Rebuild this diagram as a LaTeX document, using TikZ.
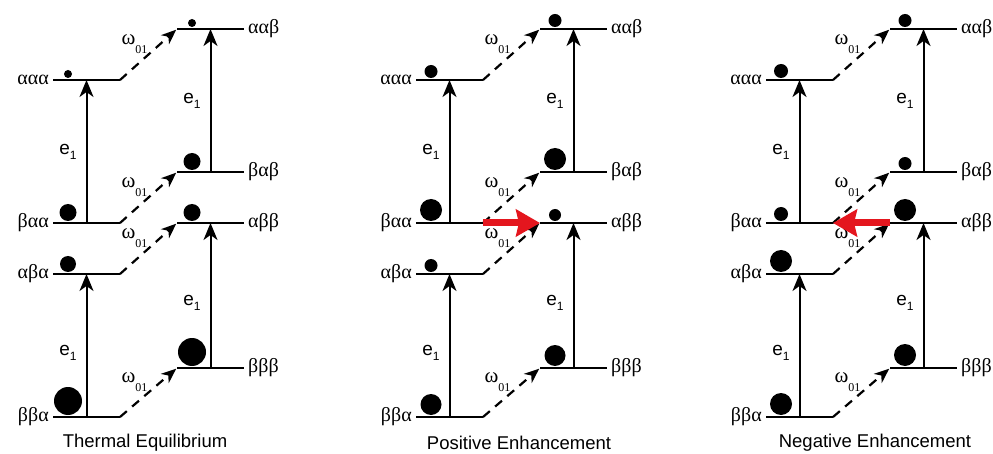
\documentclass[tikz,border=0pt]{standalone}
\usepackage{fontspec}
\setmainfont{Liberation Sans}
\newfontfamily\grk{Liberation Serif}
\usetikzlibrary{arrows.meta, positioning, calc}
\definecolor{enhred}{RGB}{228,22,30}
\newcommand{\esub}[1]{\raisebox{-5pt}{\fontsize{12}{12}\selectfont #1}}
\newcommand{\wsub}[1]{\raisebox{-9pt}{\fontsize{12}{12}\selectfont #1}}

\begin{document}
\begin{tikzpicture}[x=1pt, y=-1pt,
    lev/.style={minimum width=67pt, minimum height=0pt, inner sep=0pt, outer sep=0pt},
    lvl/.style={line width=2.6pt},
    spin/.style={font=\grk\fontsize{20}{20}\selectfont, inner sep=0pt, text height=9pt, text depth=0pt},
    xfer/.style={line width=2pt, -{Stealth[length=17pt, width=14pt, inset=5pt]}},
    cross/.style={line width=2.2pt, dash pattern=on 9pt off 7pt, shorten >=1pt,
        -{Stealth[length=15pt, width=12pt, inset=4.5pt]}},
    enh/.style={line width=7pt, draw=enhred, -{Stealth[length=24pt, width=27pt, inset=3pt]}},
    elbl/.style={font=\fontsize{19}{19}\selectfont, inner sep=0pt},
    wlbl/.style={font=\grk\fontsize{21}{21}\selectfont, inner sep=0pt},
    capt/.style={font=\fontsize{18.5}{20}\selectfont, inner sep=0pt}
  ]
  \useasboundingbox (0,0) rectangle (993,454);

  % one panel per population state
  \foreach \ox/\p/\cx/\ttl/\ra/\rb/\rc/\rd/\re/\rf/\rg/\rh in {
      53/T/145/Thermal Equilibrium/4/8.5/8/14/4/8.5/8.5/14,
      416/P/519/Positive Enhancement/6.5/11/6.5/10.5/6.5/11/6/10.5,
      766/N/875/Negative Enhancement/7/7/11/11/6.5/6.5/11/11}{
    \begin{scope}[shift={(\ox,0)}]
      % levels, left column
      \node[lev] (\p-aaa) at (33.5,80) {};
      \node[lev] (\p-baa) at (33.5,223) {};
      \node[lev] (\p-aba) at (33.5,274) {};
      \node[lev] (\p-bba) at (33.5,417) {};
      % levels, right column
      \node[lev] (\p-aab) at (157.5,29) {};
      \node[lev] (\p-bab) at (157.5,172) {};
      \node[lev] (\p-abb) at (157.5,223) {};
      \node[lev] (\p-bbb) at (157.5,368) {};
      \foreach \s in {aaa,baa,aba,bba,aab,bab,abb,bbb}
        \draw[lvl] (\p-\s.west) -- (\p-\s.east);

      \node[spin, left=4pt of \p-aaa] (\p-aaa-t) {ααα};
      \node[spin, left=4pt of \p-baa] (\p-baa-t) {βαα};
      \node[spin, left=4pt of \p-aba] (\p-aba-t) {αβα};
      \node[spin, left=4pt of \p-bba] (\p-bba-t) {ββα};
      \node[spin, right=4pt of \p-aab] (\p-aab-t) {ααβ};
      \node[spin, right=4pt of \p-bab] (\p-bab-t) {βαβ};
      \node[spin, right=4pt of \p-abb] (\p-abb-t) {αββ};
      \node[spin, right=4pt of \p-bbb] (\p-bbb-t) {βββ};

      % populations
      \fill ($(\p-aaa.west)+(15,-\ra-2)$) circle (\ra);
      \fill ($(\p-baa.west)+(15,-\rb-2)$) circle (\rb);
      \fill ($(\p-aba.west)+(15,-\rc-2)$) circle (\rc);
      \fill ($(\p-bba.west)+(15,-\rd-2)$) circle (\rd);
      \fill ($(\p-aab.west)+(15,-\re-2)$) circle (\re);
      \fill ($(\p-bab.west)+(15,-\rf-2)$) circle (\rf);
      \fill ($(\p-abb.west)+(15,-\rg-2)$) circle (\rg);
      \fill ($(\p-bbb.west)+(15,-\rh-2)$) circle (\rh);

      % electron transitions
      \draw[xfer] (\p-baa) -- node[elbl, left=9pt] (\p-e1) {e\esub{1}} (\p-aaa);
      \draw[xfer] (\p-bba) -- node[elbl, pos=.45, left=9pt] (\p-e2) {e\esub{1}} (\p-aba);
      \draw[xfer] (\p-bab) -- node[elbl, left=9pt] (\p-e3) {e\esub{1}} (\p-aab);
      \draw[xfer] (\p-bbb) -- node[elbl, pos=.45, left=9pt] (\p-e4) {e\esub{1}} (\p-abb);

      % nuclear transitions
      \draw[cross] (\p-aaa.east) -- node[wlbl, anchor=south east] (\p-w1) {ω\wsub{01}} (\p-aab.west);
      \draw[cross] (\p-baa.east) -- node[wlbl, anchor=south east] (\p-w2) {ω\wsub{01}} (\p-bab.west);
      \draw[cross] (\p-aba.east) -- node[wlbl, anchor=south east] (\p-w3) {ω\wsub{01}} (\p-abb.west);
      \draw[cross] (\p-bba.east) -- node[wlbl, anchor=south east] (\p-w4) {ω\wsub{01}} (\p-bbb.west);

      \node[capt] (\p-cap) at (\cx-\ox,443) {\ttl};
    \end{scope}
  }

  % polarisation transfer
  \draw[enh] (P-baa.east) -- (P-abb.west);
  \draw[enh] (N-abb.west) -- (N-baa.east);
\end{tikzpicture}
\end{document}
